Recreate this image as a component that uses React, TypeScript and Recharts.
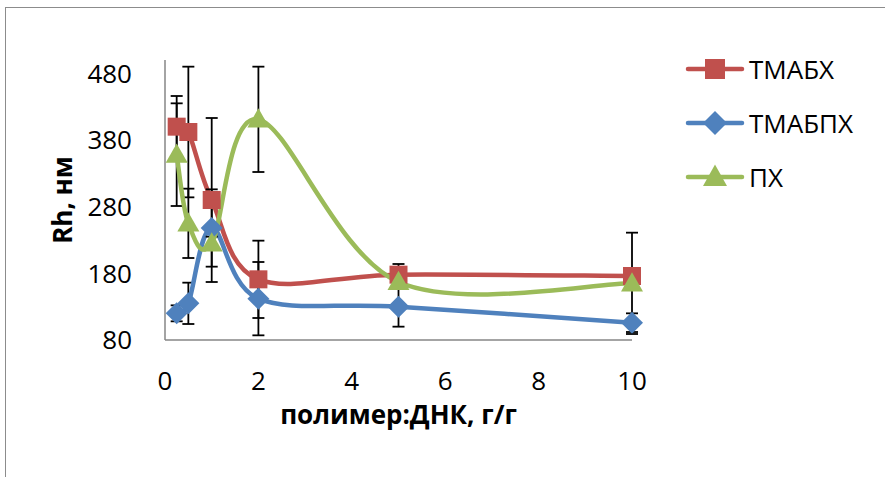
import React from 'react';
import { LineChart, Line, XAxis, YAxis, ErrorBar, Legend } from 'recharts';

// полимер:ДНК, г/г
const ratios = [0.25, 0.5, 1, 2, 5, 10];

const tmabh = [400, 392, 290, 171, 178, 176];
const tmabhErr = [46, 98, 123, 58, 16, 10];

const tmabph = [120, 135, 248, 142, 130, 106];
const tmabphErr = [12, 31, 58, 55, 30, 14];

const ph = [358, 255, 225, 411, 167, 165];
const phErr = [77, 52, 10, 79, 10, 76];

const xTicks = [0, 2, 4, 6, 8, 10];
const yTicks = [80, 180, 280, 380, 480];

const FONT = '"Open Sans", "Liberation Sans", sans-serif';

const data = ratios.map((x, i) => ({
  x,
  tmabh: tmabh[i],
  tmabhErr: tmabhErr[i],
  tmabph: tmabph[i],
  tmabphErr: tmabphErr[i],
  ph: ph[i],
  phErr: phErr[i],
}));

type Shape = 'square' | 'diamond' | 'triangle';

const series: { key: string; err: string; name: string; color: string; shape: Shape }[] = [
  { key: 'tmabh', err: 'tmabhErr', name: 'ТМАБХ', color: '#C0504D', shape: 'square' },
  { key: 'tmabph', err: 'tmabphErr', name: 'ТМАБПХ', color: '#4F81BD', shape: 'diamond' },
  { key: 'ph', err: 'phErr', name: 'ПХ', color: '#9BBB59', shape: 'triangle' },
];

// excel-like smoothed line (catmull-rom through the points)
function smoothCurve(context: any) {
  let pts: [number, number][] = [];
  return {
    areaStart() {},
    areaEnd() {},
    lineStart() {
      pts = [];
    },
    point(x: number, y: number) {
      pts.push([+x, +y]);
    },
    lineEnd() {
      if (!pts.length) return;
      context.moveTo(pts[0][0], pts[0][1]);
      for (let i = 0; i < pts.length - 1; i++) {
        const p0 = pts[Math.max(i - 1, 0)];
        const p1 = pts[i];
        const p2 = pts[i + 1];
        const p3 = pts[Math.min(i + 2, pts.length - 1)];
        context.bezierCurveTo(
          p1[0] + (p2[0] - p0[0]) / 6,
          p1[1] + (p2[1] - p0[1]) / 6,
          p2[0] - (p3[0] - p1[0]) / 6,
          p2[1] - (p3[1] - p1[1]) / 6,
          p2[0],
          p2[1],
        );
      }
    },
  };
}

function Marker({ shape, cx, cy, color, size = 18 }: { shape: Shape; cx: number; cy: number; color: string; size?: number }) {
  const h = size / 2;
  if (shape === 'square') {
    return <rect x={cx - h} y={cy - h} width={size} height={size} fill={color} />;
  }
  if (shape === 'diamond') {
    const d = h + 2;
    return <polygon points={`${cx},${cy - d} ${cx + d},${cy} ${cx},${cy + d} ${cx - d},${cy}`} fill={color} />;
  }
  const w = h + 2;
  return (
    <polygon
      points={`${cx},${cy - size * 0.62} ${cx + w},${cy + size * 0.45} ${cx - w},${cy + size * 0.45}`}
      fill={color}
    />
  );
}

function renderLegend(props: any) {
  const order = (name: string) => series.findIndex((it) => it.name === name);
  const payload = [...(props.payload || [])].sort((a: any, b: any) => order(a.value) - order(b.value));
  return (
    <div>
      {payload.map((entry: any) => {
        const s = series[order(entry.value)];
        return (
          <div key={entry.value} style={{ display: 'flex', alignItems: 'center', height: 54 }}>
            <svg width={64} height={26}>
              <line x1={3} y1={13} x2={57} y2={13} stroke={entry.color} strokeWidth={4.5} strokeLinecap="round" />
              <Marker shape={s ? s.shape : 'square'} cx={30} cy={13} color={entry.color} size={20} />
            </svg>
            <span style={{ fontFamily: FONT, fontSize: 26, color: '#000', lineHeight: 1 }}>{entry.value}</span>
          </div>
        );
      })}
    </div>
  );
}

export default function App() {
  return (
    <div style={{ position: 'absolute', left: 0, top: 0, width: 885, height: 477, background: '#fff', overflow: 'hidden' }}>
      <div
        style={{
          position: 'absolute',
          left: 5,
          top: 7,
          width: 900,
          height: 500,
          border: '1.5px solid #8c8c8c',
        }}
      />
      <div style={{ position: 'absolute', left: 0, top: 0 }}>
        <LineChart width={885} height={477} data={data} margin={{ top: 60, right: 253, left: 0, bottom: 0 }}>
          <XAxis
            dataKey="x"
            type="number"
            domain={[0, 10]}
            ticks={xTicks}
            tickLine={false}
            tickMargin={26}
            axisLine={{ stroke: '#868686', strokeWidth: 1.5 }}
            tick={{ fontSize: 26, fill: '#000', fontFamily: FONT }}
            height={137}
            label={{
              value: 'полимер:ДНК, г/г',
              position: 'insideBottom',
              offset: 53,
              style: { fontSize: 26, fontWeight: 700, fill: '#000', fontFamily: FONT },
            }}
          />
          <YAxis
            type="number"
            domain={[80, 500]}
            ticks={yTicks}
            tickLine={false}
            tickMargin={27}
            axisLine={{ stroke: '#868686', strokeWidth: 1.5 }}
            tick={{ fontSize: 26, fill: '#000', fontFamily: FONT }}
            width={165}
            label={{
              content: () => (
                <text
                  x={72}
                  y={200}
                  transform="rotate(-90 72 200)"
                  textAnchor="middle"
                  style={{ fontSize: 26, fontWeight: 700, fill: '#000', fontFamily: FONT }}
                >
                  Rh, нм
                </text>
              ),
            }}
          />
          <Legend
            layout="horizontal"
            verticalAlign="middle"
            align="center"
            content={renderLegend}
            wrapperStyle={{ position: 'absolute', left: 685, top: 42, width: 200, height: 170 }}
          />
          {series.map((s) => (
            <Line
              key={s.key}
              dataKey={s.key}
              name={s.name}
              type={smoothCurve as any}
              stroke={s.color}
              strokeWidth={4.5}
              isAnimationActive={false}
              dot={(p: any) => <Marker key={`${s.key}-${p.index}`} shape={s.shape} cx={p.cx} cy={p.cy} color={s.color} />}
              activeDot={false}
            >
              <ErrorBar dataKey={s.err} direction="y" width={6} strokeWidth={1.8} stroke="#000" />
            </Line>
          ))}
        </LineChart>
      </div>
    </div>
  );
}
